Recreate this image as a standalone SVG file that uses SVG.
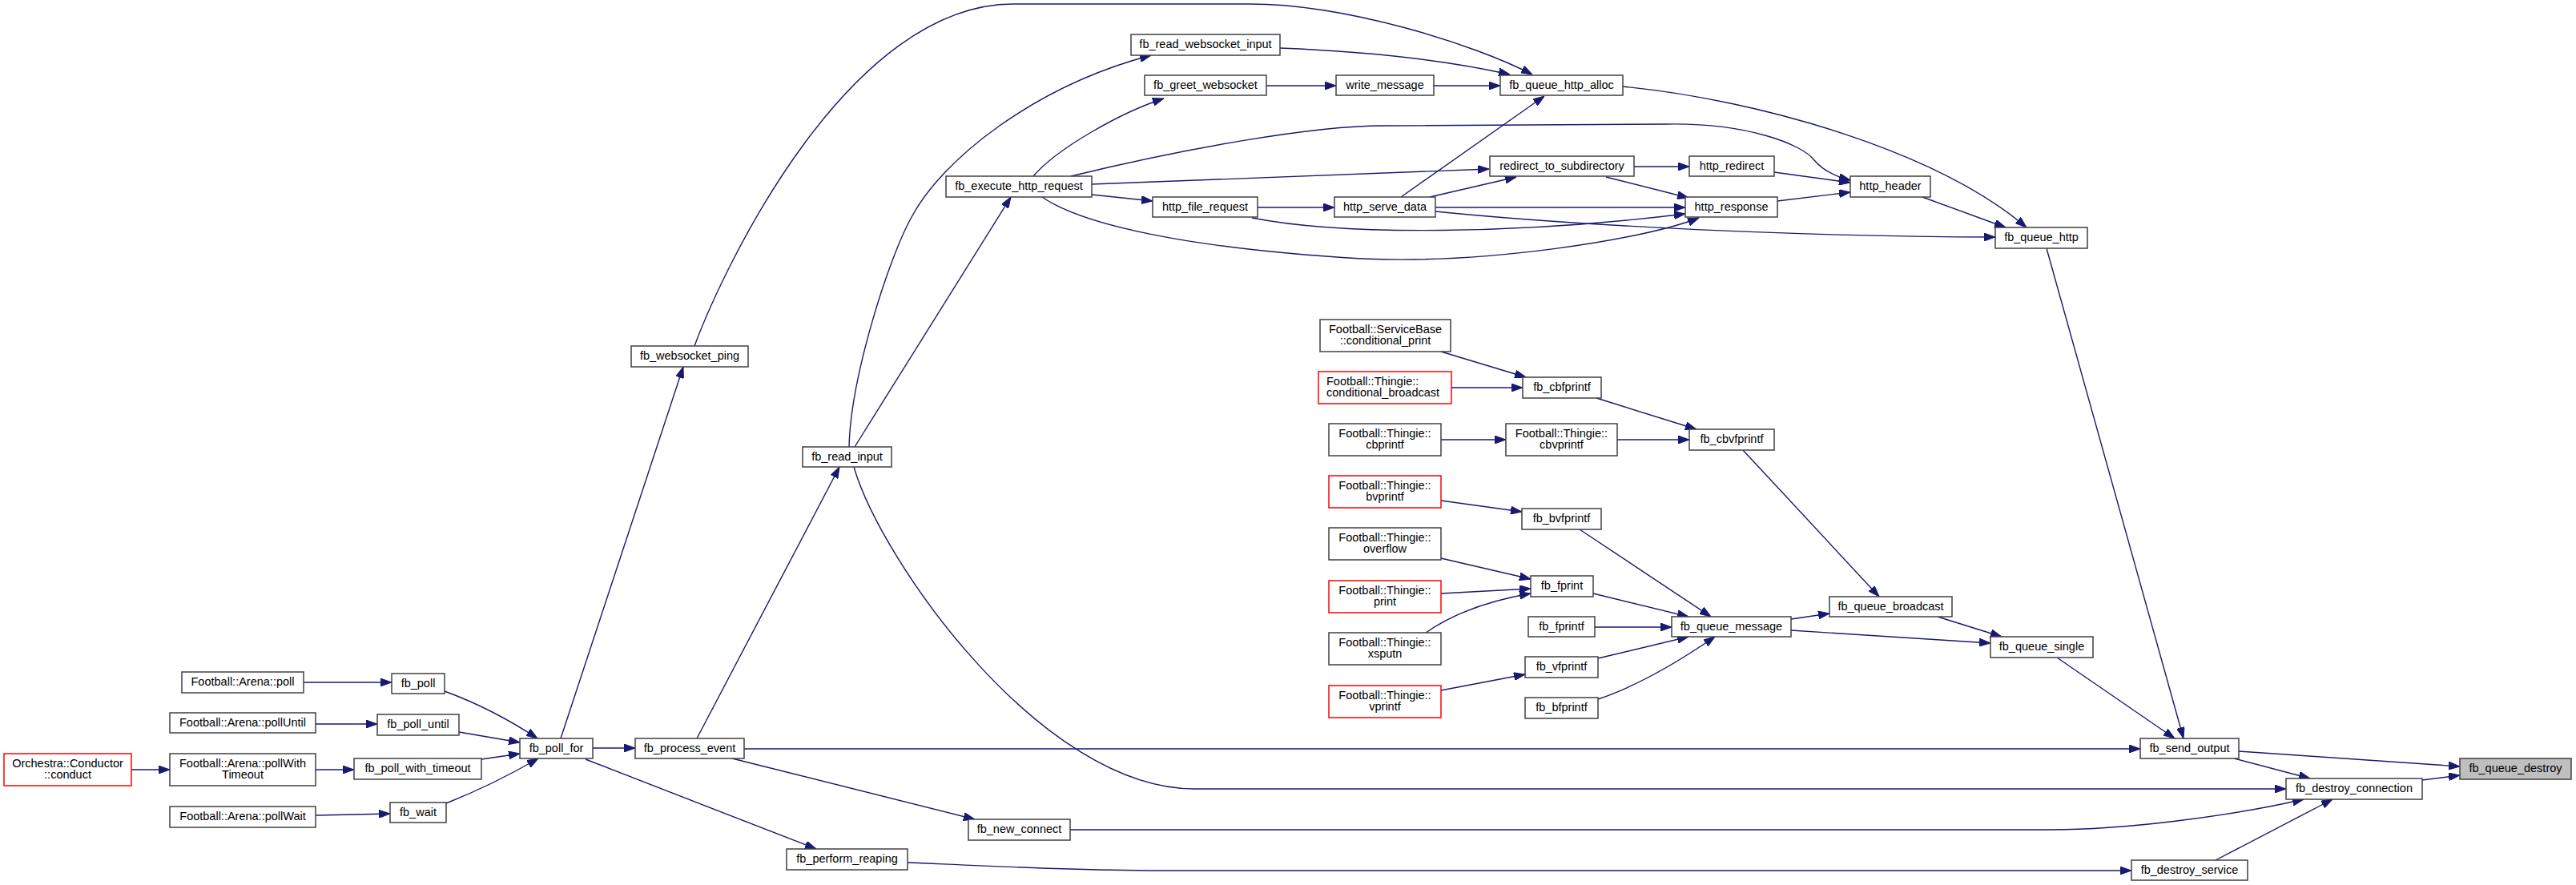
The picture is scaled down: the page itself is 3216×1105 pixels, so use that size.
<svg xmlns="http://www.w3.org/2000/svg" width="3216" height="1105" viewBox="0 0 3216 1105">
<defs>
<style>
.n rect{fill:#fff;stroke:#404040;stroke-width:1.5}
.r rect{stroke:#ff0000}
.g rect{fill:#bfbfbf}
text{font-family:"Liberation Sans",Arial,sans-serif;font-size:14.5px;fill:#000;text-anchor:middle}
.l text{text-anchor:start}
.e path{fill:none;stroke:#191970;stroke-width:1.4;marker-end:url(#a)}
</style>
<marker id="a" markerWidth="14" markerHeight="10" refX="14" refY="5" orient="auto" markerUnits="userSpaceOnUse"><path d="M0,0 L14,5 L0,10 z" fill="#191970" stroke="#191970" stroke-width="1"/></marker>
</defs>
<rect width="3216" height="1105" fill="#fff"/>
<g class="e" id="edges">
<path d="M379,852 H489"/>
<path d="M394,904 H471"/>
<path d="M164,961 H212"/>
<path d="M394,961 H442"/>
<path d="M394,1018 L487,1016"/>
<path d="M555,863 Q615,885 671,922"/>
<path d="M573,914 L649,927"/>
<path d="M601,948 L649,941"/>
<path d="M557,1003 Q615,980 672,947"/>
<path d="M740,934 H793"/>
<path d="M700,922 L853,458"/>
<path d="M731,948 L1019,1060"/>
<path d="M870,922 L1048,583"/>
<path d="M929,935 H2672"/>
<path d="M914,947 L1217,1023"/>
<path d="M1067,558 L1262,246"/>
<path d="M1060,558 C1062,470 1110,322 1137,273 C1175,200 1290,108 1437,69"/>
<path d="M1066,583 C1100,700 1300,985 1491,985 L2854,985"/>
<path d="M867,432 C905,330 1060,5 1265,5 L1560,5 C1680,5 1840,55 1913,93"/>
<path d="M1598,60 C1700,64 1800,74 1885,93"/>
<path d="M1581,107 H1668"/>
<path d="M1790,107 H1873"/>
<path d="M1290,220 C1320,185 1400,140 1453,123"/>
<path d="M1337,220 C1480,185 1640,157 1726,157 L2080,155 C2180,153 2250,180 2265,200 C2275,212 2290,220 2310,225"/>
<path d="M1363,230 L1859,211"/>
<path d="M1363,243 L1439,251"/>
<path d="M1301,246 C1350,280 1480,310 1700,323 C1850,330 2050,300 2121,272"/>
<path d="M1570,259 H1666"/>
<path d="M1563,272 C1680,295 1900,292 2104,267"/>
<path d="M1749,246 L1928,120"/>
<path d="M1785,246 L1893,221"/>
<path d="M1792,259 H2104"/>
<path d="M1792,264 C2000,285 2300,296 2491,296"/>
<path d="M2040,208 H2109"/>
<path d="M2005,221 L2108,247"/>
<path d="M2215,215 L2310,228"/>
<path d="M2219,251 L2310,240"/>
<path d="M2026,108 C2200,125 2420,190 2530,284"/>
<path d="M2400,246 L2504,284"/>
<path d="M2555,310 L2726,922"/>
<path d="M1799,439 L1905,471"/>
<path d="M1812,484 H1901"/>
<path d="M1993,497 L2118,536"/>
<path d="M1799,549 H1880"/>
<path d="M2019,549 H2109"/>
<path d="M1799,625 L1900,639"/>
<path d="M1799,697 L1911,723"/>
<path d="M1799,741 L1911,735"/>
<path d="M1780,790 Q1830,755 1911,741"/>
<path d="M1799,862 L1904,842"/>
<path d="M2176,562 L2346,745"/>
<path d="M1972,661 L2136,770"/>
<path d="M1989,741 L2108,770"/>
<path d="M1991,783 H2087"/>
<path d="M1995,822 L2108,795"/>
<path d="M1995,873 C2040,858 2090,830 2141,795"/>
<path d="M2236,773 L2284,766"/>
<path d="M2236,787 L2485,803"/>
<path d="M2419,770 L2499,795"/>
<path d="M2568,821 L2715,922"/>
<path d="M2795,938 L3071,957"/>
<path d="M2789,947 L2884,972"/>
<path d="M3024,974 L3071,968"/>
<path d="M1336,1036 L2560,1036 C2650,1036 2780,1020 2876,998"/>
<path d="M2766,1074 L2912,998"/>
<path d="M1133,1077 C1250,1082 1350,1087 1450,1087 L2661,1087"/>
</g>
<g class="n r" id="n_conduct"><rect x="5" y="941" width="159" height="40"/><text x="84.5" y="958">Orchestra::Conductor</text><text x="84.5" y="972">::conduct</text></g>
<g class="n" id="n_arena_poll"><rect x="227" y="839" width="152" height="26"/><text x="303" y="856">Football::Arena::poll</text></g>
<g class="n" id="n_arena_pollUntil"><rect x="212" y="890" width="182" height="25"/><text x="303" y="907">Football::Arena::pollUntil</text></g>
<g class="n" id="n_arena_pollWithTimeout"><rect x="212" y="941" width="182" height="40"/><text x="303" y="958">Football::Arena::pollWith</text><text x="303" y="972">Timeout</text></g>
<g class="n" id="n_arena_pollWait"><rect x="212" y="1007" width="182" height="26"/><text x="303" y="1024">Football::Arena::pollWait</text></g>
<g class="n" id="n_fb_poll"><rect x="489" y="841" width="66" height="25"/><text x="522" y="858">fb_poll</text></g>
<g class="n" id="n_fb_poll_until"><rect x="471" y="892" width="102" height="26"/><text x="522" y="909">fb_poll_until</text></g>
<g class="n" id="n_fb_poll_with_timeout"><rect x="442" y="947" width="159" height="26"/><text x="521.5" y="964">fb_poll_with_timeout</text></g>
<g class="n" id="n_fb_wait"><rect x="487" y="1002" width="70" height="25"/><text x="522" y="1019">fb_wait</text></g>
<g class="n" id="n_fb_poll_for"><rect x="649" y="922" width="91" height="25"/><text x="694.5" y="939">fb_poll_for</text></g>
<g class="n" id="n_fb_process_event"><rect x="793" y="922" width="136" height="25"/><text x="861" y="939">fb_process_event</text></g>
<g class="n" id="n_fb_websocket_ping"><rect x="788" y="432" width="146" height="26"/><text x="861" y="449">fb_websocket_ping</text></g>
<g class="n" id="n_fb_read_input"><rect x="1002" y="558" width="111" height="25"/><text x="1057.5" y="575">fb_read_input</text></g>
<g class="n" id="n_fb_new_connect"><rect x="1209" y="1023" width="127" height="26"/><text x="1272.5" y="1040">fb_new_connect</text></g>
<g class="n" id="n_fb_perform_reaping"><rect x="982" y="1060" width="151" height="26"/><text x="1057.5" y="1077">fb_perform_reaping</text></g>
<g class="n" id="n_fb_execute_http_request"><rect x="1181" y="220" width="182" height="26"/><text x="1272" y="237">fb_execute_http_request</text></g>
<g class="n" id="n_fb_read_websocket_input"><rect x="1412" y="43" width="186" height="26"/><text x="1505" y="60">fb_read_websocket_input</text></g>
<g class="n" id="n_fb_greet_websocket"><rect x="1429" y="94" width="152" height="25"/><text x="1505" y="111">fb_greet_websocket</text></g>
<g class="n" id="n_http_file_request"><rect x="1439" y="246" width="131" height="25"/><text x="1504.5" y="263">http_file_request</text></g>
<g class="n" id="n_write_message"><rect x="1668" y="94" width="122" height="25"/><text x="1729" y="111">write_message</text></g>
<g class="n" id="n_fb_queue_http_alloc"><rect x="1873" y="94" width="153" height="25"/><text x="1949.5" y="111">fb_queue_http_alloc</text></g>
<g class="n" id="n_redirect_to_subdirectory"><rect x="1860" y="195" width="180" height="25"/><text x="1950" y="212">redirect_to_subdirectory</text></g>
<g class="n" id="n_http_redirect"><rect x="2109" y="195" width="106" height="25"/><text x="2162" y="212">http_redirect</text></g>
<g class="n" id="n_http_header"><rect x="2310" y="220" width="100" height="26"/><text x="2360" y="237">http_header</text></g>
<g class="n" id="n_http_serve_data"><rect x="1666" y="246" width="126" height="25"/><text x="1729" y="263">http_serve_data</text></g>
<g class="n" id="n_http_response"><rect x="2104" y="246" width="115" height="25"/><text x="2161.5" y="263">http_response</text></g>
<g class="n" id="n_fb_queue_http"><rect x="2491" y="284" width="115" height="26"/><text x="2548.5" y="301">fb_queue_http</text></g>
<g class="n" id="n_conditional_print"><rect x="1648" y="399" width="163" height="40"/><text x="1729.5" y="416">Football::ServiceBase</text><text x="1729.5" y="430">::conditional_print</text></g>
<g class="n r l" id="n_conditional_broadcast"><rect x="1646" y="464" width="166" height="40"/><text x="1656" y="481">Football::Thingie::</text><text x="1656" y="495">conditional_broadcast</text></g>
<g class="n" id="n_fb_cbfprintf"><rect x="1901" y="471" width="98" height="26"/><text x="1950" y="488">fb_cbfprintf</text></g>
<g class="n" id="n_cbprintf"><rect x="1659" y="529" width="140" height="40"/><text x="1729" y="546">Football::Thingie::</text><text x="1729" y="560">cbprintf</text></g>
<g class="n" id="n_cbvprintf"><rect x="1880" y="529" width="139" height="40"/><text x="1949.5" y="546">Football::Thingie::</text><text x="1949.5" y="560">cbvprintf</text></g>
<g class="n" id="n_fb_cbvfprintf"><rect x="2109" y="536" width="106" height="26"/><text x="2162" y="553">fb_cbvfprintf</text></g>
<g class="n r" id="n_bvprintf"><rect x="1659" y="594" width="140" height="40"/><text x="1729" y="611">Football::Thingie::</text><text x="1729" y="625">bvprintf</text></g>
<g class="n" id="n_fb_bvfprintf"><rect x="1900" y="635" width="99" height="26"/><text x="1949.5" y="652">fb_bvfprintf</text></g>
<g class="n" id="n_overflow"><rect x="1659" y="659" width="140" height="40"/><text x="1729" y="676">Football::Thingie::</text><text x="1729" y="690">overflow</text></g>
<g class="n" id="n_fb_fprint"><rect x="1911" y="719" width="78" height="26"/><text x="1950" y="736">fb_fprint</text></g>
<g class="n r" id="n_print"><rect x="1659" y="725" width="140" height="40"/><text x="1729" y="742">Football::Thingie::</text><text x="1729" y="756">print</text></g>
<g class="n" id="n_xsputn"><rect x="1659" y="790" width="140" height="40"/><text x="1729" y="807">Football::Thingie::</text><text x="1729" y="821">xsputn</text></g>
<g class="n" id="n_fb_fprintf"><rect x="1908" y="770" width="83" height="25"/><text x="1949.5" y="787">fb_fprintf</text></g>
<g class="n" id="n_fb_queue_message"><rect x="2087" y="770" width="149" height="25"/><text x="2161.5" y="787">fb_queue_message</text></g>
<g class="n" id="n_fb_queue_broadcast"><rect x="2284" y="745" width="153" height="25"/><text x="2360.5" y="762">fb_queue_broadcast</text></g>
<g class="n" id="n_fb_vfprintf"><rect x="1904" y="820" width="91" height="26"/><text x="1949.5" y="837">fb_vfprintf</text></g>
<g class="n r" id="n_vprintf"><rect x="1659" y="856" width="140" height="40"/><text x="1729" y="873">Football::Thingie::</text><text x="1729" y="887">vprintf</text></g>
<g class="n" id="n_fb_bfprintf"><rect x="1904" y="871" width="91" height="26"/><text x="1949.5" y="888">fb_bfprintf</text></g>
<g class="n" id="n_fb_queue_single"><rect x="2485" y="795" width="128" height="26"/><text x="2549" y="812">fb_queue_single</text></g>
<g class="n" id="n_fb_send_output"><rect x="2672" y="922" width="123" height="25"/><text x="2733.5" y="939">fb_send_output</text></g>
<g class="n g" id="n_fb_queue_destroy"><rect x="3071" y="947" width="139" height="26"/><text x="3140.5" y="964">fb_queue_destroy</text></g>
<g class="n" id="n_fb_destroy_connection"><rect x="2854" y="972" width="170" height="26"/><text x="2939" y="989">fb_destroy_connection</text></g>
<g class="n" id="n_fb_destroy_service"><rect x="2661" y="1074" width="145" height="25"/><text x="2733.5" y="1091">fb_destroy_service</text></g>
</svg>
